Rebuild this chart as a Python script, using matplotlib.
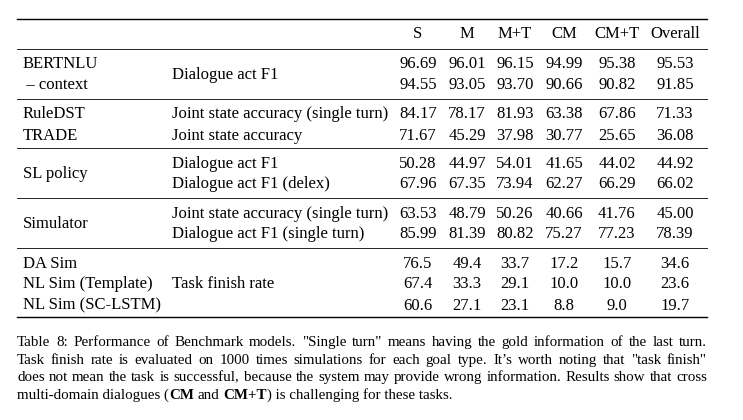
import matplotlib.pyplot as plt

plt.rcParams['font.family'] = ['Liberation Serif', 'DejaVu Serif']

# column headers
cols = ['S', 'M', 'M+T', 'CM', 'CM+T', 'Overall']

# table content, one block per group
nlu_models = ['BERTNLU', '\u2009\u2013 context']
nlu_metric = ['Dialogue act F1']
nlu_vals = [[96.69, 96.01, 96.15, 94.99, 95.38, 95.53],
            [94.55, 93.05, 93.70, 90.66, 90.82, 91.85]]

dst_models = ['RuleDST', 'TRADE']
dst_metric = ['Joint state accuracy (single turn)', 'Joint state accuracy']
dst_vals = [[84.17, 78.17, 81.93, 63.38, 67.86, 71.33],
            [71.67, 45.29, 37.98, 30.77, 25.65, 36.08]]

pol_models = ['SL policy']
pol_metric = ['Dialogue act F1', 'Dialogue act F1 (delex)']
pol_vals = [[50.28, 44.97, 54.01, 41.65, 44.02, 44.92],
            [67.96, 67.35, 73.94, 62.27, 66.29, 66.02]]

sim_models = ['Simulator']
sim_metric = ['Joint state accuracy (single turn)', 'Dialogue act F1 (single turn)']
sim_vals = [[63.53, 48.79, 50.26, 40.66, 41.76, 45.00],
            [85.99, 81.39, 80.82, 75.27, 77.23, 78.39]]

task_models = ['DA Sim', 'NL Sim (Template)', 'NL Sim (SC-LSTM)']
task_metric = ['Task finish rate']
task_vals = [[76.5, 49.4, 33.7, 17.2, 15.7, 34.6],
             [67.4, 33.3, 29.1, 10.0, 10.0, 23.6],
             [60.6, 27.1, 23.1, 8.8, 9.0, 19.7]]

caption = [
    'Table 8: Performance of Benchmark models. "Single turn" means having the gold information of the last turn.',
    'Task finish rate is evaluated on 1000 times simulations for each goal type. It\u2019s worth noting that "task finish"',
    'does not mean the task is successful, because the system may provide wrong information. Results show that cross',
]
caption_last = [('multi-domain dialogues (', 'normal'), ('CM', 'bold'), (' and ', 'normal'),
                ('CM+T', 'bold'), (') is challenging for these tasks.', 'normal')]

groups = [
    (nlu_models, nlu_metric, nlu_vals, '%.2f', [68.5, 89.0]),
    (dst_models, dst_metric, dst_vals, '%.2f', [118.5, 139.5]),
    (pol_models, pol_metric, pol_vals, '%.2f', [168.5, 188.5]),
    (sim_models, sim_metric, sim_vals, '%.2f', [218.5, 238.5]),
    (task_models, task_metric, task_vals, '%.1f', [267.5, 288.5, 309.5]),
]

W, H = 743, 420
fig = plt.figure(figsize=(W / 100, H / 100), dpi=100, facecolor='w')
ax = fig.add_axes([0, 0, 1, 1])
ax.set_xlim(0, W)
ax.set_ylim(H, 0)
ax.axis('off')

fs = 12
col_x = [418, 467, 515, 564, 617, 675]
model_x = 23
metric_x = 172
x0, x1 = 17, 707

# rules
ax.plot([x0, x1], [19, 19], color='k', lw=1.0)
ax.plot([x0, x1], [317, 317], color='k', lw=1.0)
for yy in [49, 99, 148, 198, 248]:
    ax.plot([x0, x1], [yy, yy], color='k', lw=0.6)

# header
for cx, c in zip(col_x, cols):
    ax.text(cx, 38.5, c, ha='center', va='baseline', fontsize=fs)

for models, metrics, vals, fmt, ys in groups:
    mid = sum(ys) / len(ys)
    if len(models) == len(ys):
        for m, yy in zip(models, ys):
            ax.text(model_x, yy, m, ha='left', va='baseline', fontsize=fs)
    else:
        ax.text(model_x, mid, models[0], ha='left', va='baseline', fontsize=fs)
    if len(metrics) == len(ys):
        for m, yy in zip(metrics, ys):
            ax.text(metric_x, yy, m, ha='left', va='baseline', fontsize=fs)
    else:
        ax.text(metric_x, mid, metrics[0], ha='left', va='baseline', fontsize=fs)
    for row, yy in zip(vals, ys):
        for cx, v in zip(col_x, row):
            ax.text(cx, yy, fmt % v, ha='center', va='baseline', fontsize=fs)

# caption
cfs = 10.85
r = fig.canvas.get_renderer()


def text_w(s, **kw):
    t = ax.text(0, 0, s, fontsize=cfs, **kw)
    w = t.get_window_extent(renderer=r).width
    t.remove()
    return w


cap_y = [346.3, 363.8, 381.3, 398.8]
# justified lines
for line, yy in zip(caption, cap_y):
    words = line.split(' ')
    widths = [text_w(w) for w in words]
    gap = (x1 - x0 - sum(widths)) / (len(words) - 1)
    xx = x0
    for w, wd in zip(words, widths):
        ax.text(xx, yy, w, ha='left', va='baseline', fontsize=cfs)
        xx += wd + gap

# last line, not justified
sw = text_w('a a') - 2 * text_w('a')
xx = x0
for txt, wt in caption_last:
    lead = len(txt) - len(txt.lstrip(' '))
    trail = len(txt) - len(txt.rstrip(' '))
    xx += lead * sw
    s = txt.strip(' ')
    ax.text(xx, cap_y[3], s, ha='left', va='baseline', fontsize=cfs, fontweight=wt)
    xx += text_w(s, fontweight=wt) + trail * sw

fig.savefig('out.png', dpi=100, facecolor='w')
